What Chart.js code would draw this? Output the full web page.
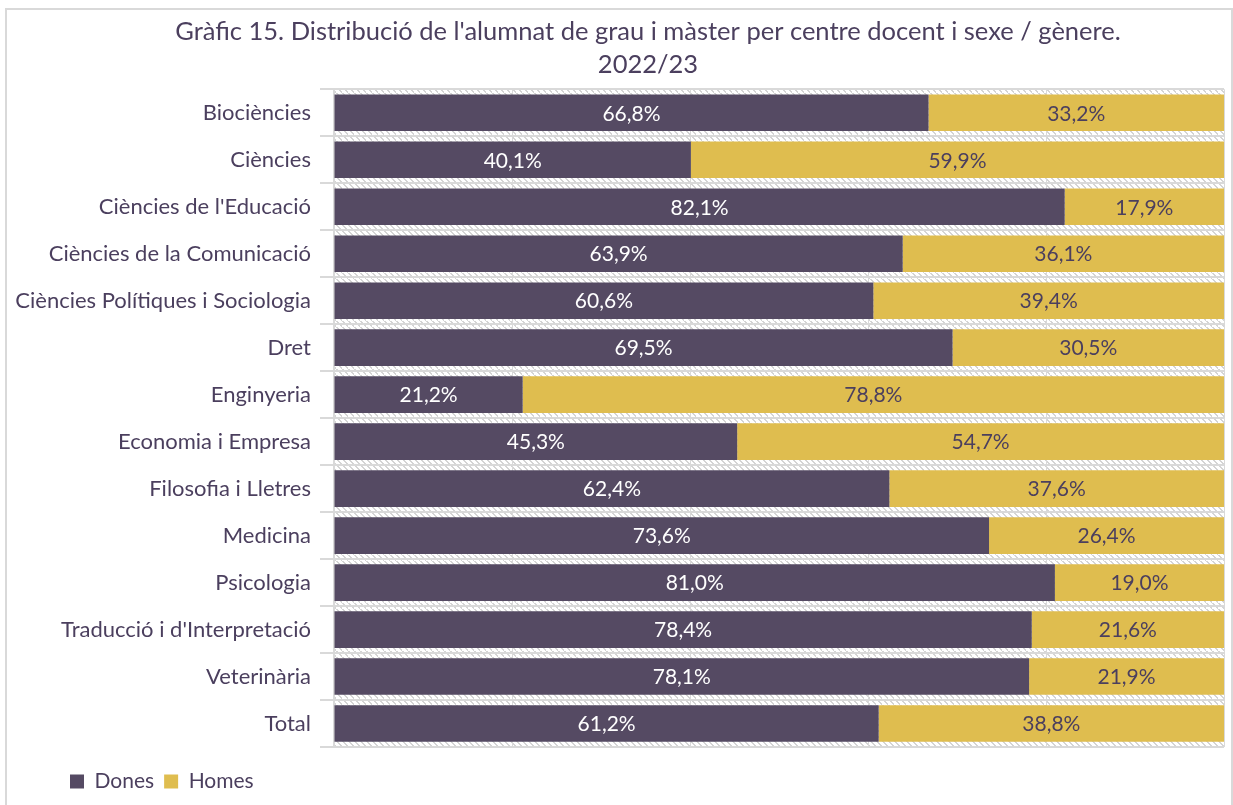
<!DOCTYPE html>
<html>
<head>
<meta charset="utf-8">
<script src="https://cdn.jsdelivr.net/npm/chart.js@4"></script>
<style>
    html, body { margin: 0; padding: 0; background: #fff; }
    #wrap { width: 1233px; height: 805px; }
</style>
</head>
<body>
<div id="wrap"><canvas id="grafic"></canvas></div>
<script>
const centres = [
    'Biociències', 'Ciències', "Ciències de l'Educació", 'Ciències de la Comunicació',
    'Ciències Polítiques i Sociologia', 'Dret', 'Enginyeria', 'Economia i Empresa',
    'Filosofia i Lletres', 'Medicina', 'Psicologia', "Traducció i d'Interpretació",
    'Veterinària', 'Total'
];
const dones = [66.8, 40.1, 82.1, 63.9, 60.6, 69.5, 21.2, 45.3, 62.4, 73.6, 81.0, 78.4, 78.1, 61.2];
const homes = [33.2, 59.9, 17.9, 36.1, 39.4, 30.5, 78.8, 54.7, 37.6, 26.4, 19.0, 21.6, 21.9, 38.8];
const titol = ["Gràfic 15. Distribució de l'alumnat de grau i màster per centre docent i sexe / gènere.", '2022/23'];

const TEXT = '#4b3f5e';
const FONT = "Lato, 'Open Sans', sans-serif";

// trama de fons de l'àrea de traçat
function makeHatch() {
    const c = document.createElement('canvas');
    c.width = 6; c.height = 6;
    const g = c.getContext('2d');
    g.fillStyle = '#ffffff';
    g.fillRect(0, 0, 6, 6);
    g.fillStyle = '#d4d4d4';
    for (let i = 0; i < 6; i++) g.fillRect((i + 3) % 6, i, 2, 1);
    return g.createPattern(c, 'repeat');
}

const fonsPlugin = {
    id: 'fons',
    beforeDraw(chart) {
        const { ctx, chartArea: a } = chart;
        ctx.save();
        ctx.fillStyle = makeHatch();
        ctx.fillRect(a.left, a.top, a.right - a.left, a.bottom - a.top);
        ctx.strokeStyle = '#d9d9d9';
        ctx.lineWidth = 2;
        ctx.beginPath();
        ctx.moveTo(6, 805);
        ctx.lineTo(6, 9);
        ctx.lineTo(1232, 9);
        ctx.lineTo(1232, 805);
        ctx.stroke();
        ctx.restore();
    }
};

const posicioPlugin = {
    id: 'posicio',
    afterLayout(chart) {
        if (chart.legend) {
            const w = chart.legend.right - chart.legend.left;
            chart.legend.left = 60;
            chart.legend.right = 60 + w;
        }
        if (chart.titleBlock) {
            chart.titleBlock.left += 32;
            chart.titleBlock.right += 32;
        }
    }
};

const etiquetesPlugin = {
    id: 'etiquetes',
    afterDatasetsDraw(chart) {
        const ctx = chart.ctx;
        ctx.save();
        ctx.font = '21px ' + FONT;
        ctx.textAlign = 'center';
        ctx.textBaseline = 'middle';
        chart.data.datasets.forEach((ds, i) => {
            const meta = chart.getDatasetMeta(i);
            meta.data.forEach((bar, j) => {
                const v = ds.data[j];
                ctx.fillStyle = i === 0 ? '#ffffff' : TEXT;
                ctx.fillText(v.toFixed(1).replace('.', ',') + '%', (bar.x + bar.base) / 2, bar.y + 1);
            });
        });
        ctx.restore();
    }
};

new Chart(document.getElementById('grafic'), {
    type: 'bar',
    data: {
        labels: centres,
        datasets: [
            { label: 'Dones', data: dones, backgroundColor: '#554a63', barPercentage: 0.78, categoryPercentage: 1 },
            { label: 'Homes', data: homes, backgroundColor: '#dfbd4f', barPercentage: 0.78, categoryPercentage: 1 }
        ]
    },
    options: {
        indexAxis: 'y',
        responsive: true,
        maintainAspectRatio: false,
        animation: false,
        layout: { padding: { left: 8, right: 9, top: 15, bottom: 3 } },
        plugins: {
            title: {
                display: true,
                text: titol,
                color: TEXT,
                font: { family: FONT, size: 25.5, weight: 'normal', lineHeight: 1.3 },
                padding: { top: 0, bottom: 8 }
            },
            legend: {
                position: 'bottom',
                align: 'start',
                labels: {
                    color: TEXT,
                    font: { family: FONT, size: 21 },
                    boxWidth: 14,
                    boxHeight: 14,
                    padding: 10
                }
            },
            tooltip: { enabled: false }
        },
        scales: {
            x: {
                stacked: true,
                min: 0,
                max: 100,
                ticks: { display: false, stepSize: 20 },
                grid: { color: '#d9d9d9', drawTicks: false },
                border: { display: false },
                afterFit(scale) { scale.height = 14; }
            },
            y: {
                stacked: true,
                ticks: { color: TEXT, font: { family: FONT, size: 22 }, padding: 9 },
                grid: { color: '#d9d9d9', offset: true, tickLength: 14, lineWidth: 2 },
                border: { color: '#d9d9d9', width: 2 },
                afterFit(scale) { scale.width = 326; }
            }
        }
    },
    plugins: [fonsPlugin, posicioPlugin, etiquetesPlugin]
});
</script>
</body>
</html>
